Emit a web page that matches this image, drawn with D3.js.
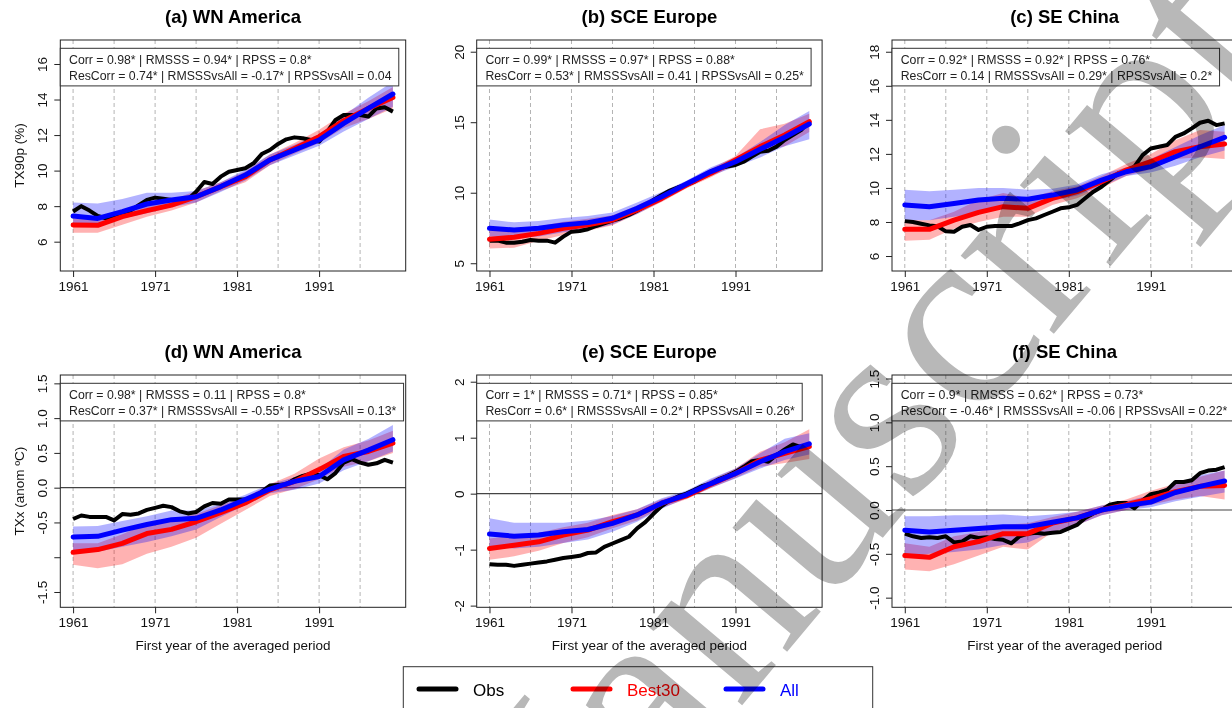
<!DOCTYPE html>
<html>
<head>
<meta charset="utf-8">
<script src="https://cdn.jsdelivr.net/npm/d3@7"></script>
<style>
body { margin: 0; background: #fff; }
text { font-family: "Liberation Sans", Arial, Helvetica, sans-serif; }
</style>
</head>
<body>
<svg width="1232" height="708"></svg>
<script>
// x categories
var obsYears = d3.range(1961, 2001);
var modelYears = [1961, 1964, 1967, 1970, 1973, 1976, 1979, 1982, 1985, 1988, 1991, 1994, 1997, 2000];
var gridYears = [1961, 1966, 1971, 1976, 1981, 1986, 1991, 1996];
var xTickYears = [1961, 1971, 1981, 1991];

// (a) WN America, TX90p
var aObs = [7.7, 8.0, 7.75, 7.45, 7.32, 7.37, 7.54, 7.75, 8.06, 8.35, 8.48, 8.42, 8.35, 8.3, 8.38, 8.81, 9.36, 9.25, 9.66, 9.94,
            10.03, 10.13, 10.41, 10.93, 11.16, 11.5, 11.76, 11.87, 11.82, 11.72, 11.63, 12.19, 12.85, 13.13, 13.13, 13.13, 13.04, 13.5, 13.56, 13.32];
var aBest = [6.94, 6.92, 7.41, 7.75, 8.06, 8.53, 9.1, 9.66, 10.6, 11.25, 11.91, 12.81, 13.5, 14.12];
var aBestLo = [6.5, 6.5, 6.95, 7.4, 7.75, 8.2, 8.85, 9.35, 10.3, 10.95, 11.55, 12.4, 12.9, 13.5];
var aBestHi = [7.3, 7.3, 7.8, 8.1, 8.35, 8.85, 9.35, 9.95, 10.9, 11.55, 12.3, 13.2, 13.9, 14.7];
var aAll = [7.44, 7.31, 7.69, 8.12, 8.35, 8.53, 9.1, 9.75, 10.6, 11.16, 11.72, 12.66, 13.5, 14.31];
var aAllLo = [7.05, 6.95, 7.3, 7.6, 7.95, 8.2, 8.8, 9.45, 10.3, 10.85, 11.4, 12.2, 12.9, 13.6];
var aAllHi = [8.2, 8.15, 8.4, 8.75, 8.75, 8.85, 9.35, 10.05, 10.9, 11.45, 12.05, 13.1, 14.1, 15.0];

// (b) SCE Europe, TX90p
var bObs = [6.6, 6.6, 6.46, 6.46, 6.53, 6.65, 6.6, 6.6, 6.46, 6.89, 7.24, 7.29, 7.41, 7.64, 7.83, 8.02, 8.19, 8.42, 8.73, 9.06,
            9.49, 9.84, 10.15, 10.39, 10.55, 10.79, 11.14, 11.5, 11.73, 11.85, 11.97, 12.2, 12.56, 12.91, 12.98, 13.27, 13.74, 14.09, 14.45, 15.04];
var bBest = [6.7, 6.84, 7.12, 7.48, 7.72, 8.07, 8.78, 9.6, 10.55, 11.38, 12.32, 13.27, 14.09, 15.04];
var bBestLo = [6.05, 6.1, 6.6, 7.0, 7.3, 7.7, 8.5, 9.35, 10.3, 11.1, 12.0, 12.9, 13.3, 14.3];
var bBestHi = [7.35, 7.5, 7.6, 7.95, 8.15, 8.4, 9.1, 9.95, 10.8, 11.7, 12.6, 14.5, 14.9, 15.6];
var bAll = [7.48, 7.36, 7.48, 7.72, 7.88, 8.19, 8.9, 9.72, 10.62, 11.5, 12.2, 13.08, 13.93, 14.87];
var bAllLo = [6.9, 6.8, 6.9, 7.2, 7.35, 7.75, 8.5, 9.4, 10.35, 11.2, 11.85, 12.5, 13.3, 13.8];
var bAllHi = [8.1, 7.9, 8.0, 8.2, 8.35, 8.6, 9.3, 10.05, 10.85, 11.8, 12.5, 13.6, 14.8, 15.8];

// (c) SE China, TX90p
var cObs = [8.05, 8.0, 7.9, 7.8, 7.75, 7.45, 7.43, 7.72, 7.82, 7.53, 7.72, 7.76, 7.76, 7.76, 7.92, 8.11, 8.21, 8.41, 8.6, 8.8,
            8.86, 9.0, 9.39, 9.78, 10.07, 10.46, 10.85, 10.95, 11.25, 11.93, 12.32, 12.42, 12.52, 13.0, 13.2, 13.5, 13.83, 13.95, 13.69, 13.79];
var cBest = [7.57, 7.57, 8.11, 8.56, 8.9, 8.8, 9.39, 9.78, 10.36, 11.05, 11.54, 12.13, 12.42, 12.58];
var cBestLo = [6.9, 6.95, 7.6, 8.0, 8.3, 8.3, 9.0, 9.4, 10.0, 10.7, 11.1, 11.7, 11.8, 11.7];
var cBestHi = [8.1, 8.1, 8.6, 9.3, 9.7, 9.4, 9.8, 10.1, 10.7, 11.4, 12.0, 12.8, 13.4, 13.3];
var cAll = [9.0, 8.9, 9.09, 9.29, 9.39, 9.33, 9.58, 9.88, 10.46, 10.95, 11.25, 11.83, 12.42, 12.97];
var cAllLo = [8.1, 8.1, 8.3, 8.5, 8.8, 8.9, 9.25, 9.55, 10.1, 10.7, 10.9, 11.3, 11.8, 12.2];
var cAllHi = [9.9, 9.8, 9.9, 10.0, 10.0, 9.9, 9.95, 10.2, 10.8, 11.2, 11.7, 12.4, 13.1, 13.7];

// (d) WN America, TXx
var dObs = [-0.45, -0.4, -0.42, -0.42, -0.42, -0.47, -0.38, -0.39, -0.37, -0.32, -0.29, -0.26, -0.28, -0.34, -0.37, -0.35, -0.27, -0.22, -0.23, -0.17,
            -0.17, -0.17, -0.15, -0.06, 0.03, 0.04, 0.05, 0.12, 0.17, 0.2, 0.18, 0.12, 0.21, 0.36, 0.41, 0.36, 0.33, 0.35, 0.4, 0.36];
var dBest = [-0.93, -0.89, -0.8, -0.66, -0.6, -0.49, -0.36, -0.22, -0.03, 0.09, 0.26, 0.45, 0.52, 0.64];
var dBestLo = [-1.11, -1.16, -1.1, -0.95, -0.85, -0.72, -0.52, -0.32, -0.12, -0.02, 0.12, 0.3, 0.38, 0.5];
var dBestHi = [-0.8, -0.8, -0.67, -0.52, -0.45, -0.38, -0.25, -0.14, 0.05, 0.2, 0.42, 0.58, 0.68, 0.82];
var dAll = [-0.71, -0.7, -0.61, -0.53, -0.46, -0.44, -0.32, -0.17, -0.02, 0.09, 0.16, 0.4, 0.54, 0.69];
var dAllLo = [-0.9, -0.92, -0.85, -0.78, -0.7, -0.6, -0.42, -0.25, -0.08, -0.03, 0.06, 0.25, 0.38, 0.52];
var dAllHi = [-0.56, -0.55, -0.48, -0.41, -0.33, -0.33, -0.23, -0.1, 0.05, 0.15, 0.26, 0.55, 0.7, 0.9];

// (e) SCE Europe, TXx
var eObs = [-1.26, -1.27, -1.27, -1.29, -1.27, -1.25, -1.23, -1.21, -1.18, -1.15, -1.13, -1.11, -1.06, -1.05, -0.95, -0.89, -0.83, -0.77, -0.62, -0.51,
            -0.36, -0.22, -0.12, -0.05, 0.0, 0.07, 0.14, 0.18, 0.26, 0.32, 0.39, 0.48, 0.58, 0.6, 0.57, 0.69, 0.79, 0.88, 0.83, 0.87];
var eBest = [-0.98, -0.92, -0.86, -0.74, -0.65, -0.5, -0.38, -0.17, -0.04, 0.17, 0.36, 0.6, 0.72, 0.84];
var eBestLo = [-1.18, -1.12, -1.02, -0.88, -0.78, -0.62, -0.48, -0.25, -0.1, 0.1, 0.28, 0.48, 0.55, 0.62];
var eBestHi = [-0.8, -0.75, -0.7, -0.6, -0.52, -0.38, -0.28, -0.1, 0.03, 0.25, 0.45, 0.75, 0.92, 1.15];
var eAll = [-0.72, -0.76, -0.74, -0.68, -0.64, -0.53, -0.38, -0.17, -0.02, 0.18, 0.36, 0.57, 0.75, 0.89];
var eAllLo = [-0.95, -0.98, -0.95, -0.88, -0.82, -0.68, -0.5, -0.27, -0.08, 0.1, 0.27, 0.45, 0.6, 0.7];
var eAllHi = [-0.44, -0.52, -0.52, -0.52, -0.48, -0.4, -0.28, -0.08, 0.05, 0.27, 0.45, 0.72, 0.98, 1.08];

// (f) SE China, TXx
var fObs = [-0.27, -0.3, -0.32, -0.31, -0.32, -0.3, -0.37, -0.36, -0.3, -0.32, -0.31, -0.33, -0.34, -0.38, -0.3, -0.27, -0.26, -0.27, -0.26, -0.25,
            -0.21, -0.17, -0.09, -0.04, 0.0, 0.06, 0.08, 0.08, 0.02, 0.11, 0.18, 0.2, 0.23, 0.32, 0.32, 0.34, 0.42, 0.45, 0.46, 0.49];
var fBest = [-0.52, -0.54, -0.42, -0.36, -0.27, -0.27, -0.15, -0.09, 0.0, 0.06, 0.13, 0.21, 0.27, 0.28];
var fBestLo = [-0.68, -0.7, -0.62, -0.52, -0.42, -0.45, -0.25, -0.17, -0.06, 0.0, 0.06, 0.12, 0.16, 0.12];
var fBestHi = [-0.38, -0.42, -0.3, -0.25, -0.17, -0.15, -0.08, -0.02, 0.05, 0.12, 0.22, 0.3, 0.38, 0.45];
var fAll = [-0.23, -0.25, -0.23, -0.21, -0.19, -0.19, -0.14, -0.09, 0.0, 0.05, 0.09, 0.2, 0.27, 0.33];
var fAllLo = [-0.55, -0.5, -0.48, -0.45, -0.4, -0.37, -0.25, -0.17, -0.06, 0.0, 0.03, 0.1, 0.15, 0.2];
var fAllHi = [-0.07, -0.07, -0.06, -0.06, -0.05, -0.07, -0.05, -0.02, 0.05, 0.1, 0.17, 0.3, 0.4, 0.45];

var panels = [
  {title: "(a) WN America", col: 0, row: 0, yDomain: [4.35, 17.35], yTicks: [6, 8, 10, 12, 14, 16],
   yLabels: ["6", "8", "10", "12", "14", "16"],
   stats: ["Corr = 0.98* | RMSSS = 0.94* | RPSS = 0.8*", "ResCorr = 0.74* | RMSSSvsAll = -0.17* | RPSSvsAll = 0.04"],
   obs: aObs, best: aBest, bestLo: aBestLo, bestHi: aBestHi, all: aAll, allLo: aAllLo, allHi: aAllHi},
  {title: "(b) SCE Europe", col: 1, row: 0, yDomain: [4.45, 20.83], yTicks: [5, 10, 15, 20],
   yLabels: ["5", "10", "15", "20"],
   stats: ["Corr = 0.99* | RMSSS = 0.97* | RPSS = 0.88*", "ResCorr = 0.53* | RMSSSvsAll = 0.41 | RPSSvsAll = 0.25*"],
   obs: bObs, best: bBest, bestLo: bBestLo, bestHi: bBestHi, all: bAll, allLo: bAllLo, allHi: bAllHi},
  {title: "(c) SE China", col: 2, row: 0, yDomain: [5.12, 18.69], yTicks: [6, 8, 10, 12, 14, 16, 18],
   yLabels: ["6", "8", "10", "12", "14", "16", "18"],
   stats: ["Corr = 0.92* | RMSSS = 0.92* | RPSS = 0.76*", "ResCorr = 0.14 | RMSSSvsAll = 0.29* | RPSSvsAll = 0.2*"],
   obs: cObs, best: cBest, bestLo: cBestLo, bestHi: cBestHi, all: cAll, allLo: cAllLo, allHi: cAllHi},
  {title: "(d) WN America", col: 0, row: 1, yDomain: [-1.72, 1.62], yTicks: [-1.5, -1, -0.5, 0, 0.5, 1, 1.5],
   yLabels: ["-1.5", "", "-0.5", "0.0", "0.5", "1.0", "1.5"],
   stats: ["Corr = 0.98* | RMSSS = 0.11 | RPSS = 0.8*", "ResCorr = 0.37* | RMSSSvsAll = -0.55* | RPSSvsAll = 0.13*"],
   obs: dObs, best: dBest, bestLo: dBestLo, bestHi: dBestHi, all: dAll, allLo: dAllLo, allHi: dAllHi},
  {title: "(e) SCE Europe", col: 1, row: 1, yDomain: [-2.03, 2.12], yTicks: [-2, -1, 0, 1, 2],
   yLabels: ["-2", "-1", "0", "1", "2"],
   stats: ["Corr = 1* | RMSSS = 0.71* | RPSS = 0.85*", "ResCorr = 0.6* | RMSSSvsAll = 0.2* | RPSSvsAll = 0.26*"],
   obs: eObs, best: eBest, bestLo: eBestLo, bestHi: eBestHi, all: eAll, allLo: eAllLo, allHi: eAllHi},
  {title: "(f) SE China", col: 2, row: 1, yDomain: [-1.11, 1.54], yTicks: [-1, -0.5, 0, 0.5, 1, 1.5],
   yLabels: ["-1.0", "-0.5", "0.0", "0.5", "1.0", "1.5"],
   stats: ["Corr = 0.9* | RMSSS = 0.62* | RPSS = 0.73*", "ResCorr = -0.46* | RMSSSvsAll = -0.06 | RPSSvsAll = 0.22*"],
   obs: fObs, best: fBest, bestLo: fBestLo, bestHi: fBestHi, all: fAll, allLo: fAllLo, allHi: fAllHi}
];

var yTitles = ["TX90p (%)", "TXx (anom \u00baC)"];
var legendItems = [{name: "Obs", color: "#000"}, {name: "Best30", color: "#ff0000"}, {name: "All", color: "#0000ff"}];

var svg = d3.select("svg");
var colLeft = [60.3, 476.7, 892],
    rowTop = [40, 375],
    rowHeight = [231, 232.3],
    plotW = 345.4;

panels.forEach(drawPanel);

function drawPanel(p) {
  var left = colLeft[p.col], top = rowTop[p.row], h = rowHeight[p.row];
  var x = d3.scaleLinear().domain([1959.44, 2001.56]).range([left, left + plotW]);
  var y = d3.scaleLinear().domain(p.yDomain).range([top + h, top]);
  var g = svg.append("g");

  g.append("text")
    .attr("x", left + plotW / 2).attr("y", top - 17)
    .attr("text-anchor", "middle")
    .style("font-size", "18.5px").style("font-weight", "bold")
    .text(p.title);

  g.selectAll(".grid").data(gridYears).enter().append("line")
    .attr("x1", d => x(d)).attr("x2", d => x(d))
    .attr("y1", top).attr("y2", top + h)
    .attr("stroke", "#b4b4b4").attr("stroke-dasharray", "4,3").attr("stroke-width", 1);

  if (p.row == 1) {
    g.append("line")
      .attr("x1", left).attr("x2", left + plotW)
      .attr("y1", y(0)).attr("y2", y(0))
      .attr("stroke", "#444").attr("stroke-width", 1.2);
  }

  var band = function(lo, hi) {
    return d3.area()
      .x((d, i) => x(modelYears[i]))
      .y0((d, i) => y(lo[i]))
      .y1((d, i) => y(hi[i]))(lo);
  };
  var line = function(vals, yrs) {
    return d3.line().x((d, i) => x(yrs[i])).y(d => y(d))(vals);
  };

  g.append("path").attr("d", band(p.bestLo, p.bestHi)).attr("fill", "#ff0000").attr("fill-opacity", 0.3);
  g.append("path").attr("d", band(p.allLo, p.allHi)).attr("fill", "#0000ff").attr("fill-opacity", 0.3);

  g.append("path").attr("d", line(p.obs, obsYears))
    .attr("fill", "none").attr("stroke", "#000").attr("stroke-width", 4).attr("stroke-linejoin", "round");
  g.append("path").attr("d", line(p.best, modelYears))
    .attr("fill", "none").attr("stroke", "#ff0000").attr("stroke-width", 5).attr("stroke-linejoin", "round").attr("stroke-linecap", "round");
  g.append("path").attr("d", line(p.all, modelYears))
    .attr("fill", "none").attr("stroke", "#0000ff").attr("stroke-width", 5).attr("stroke-linejoin", "round").attr("stroke-linecap", "round");

  // box
  g.append("rect")
    .attr("x", left).attr("y", top).attr("width", plotW).attr("height", h)
    .attr("fill", "none").attr("stroke", "#222").attr("stroke-width", 1);

  // x axis
  var xAxis = d3.axisBottom(x).tickValues(xTickYears).tickFormat(d3.format("d")).tickSizeOuter(0).tickSize(6).tickPadding(4);
  var gx = g.append("g").attr("transform", "translate(0," + (top + h) + ")").call(xAxis);
  gx.select(".domain").remove();
  gx.selectAll("text").style("font-size", "13.5px").attr("fill", "#111").style("font-family", "Liberation Sans, Arial, sans-serif");
  gx.selectAll("line").attr("stroke", "#222");

  // y axis, labels parallel to axis
  var yAxis = d3.axisLeft(y).tickValues(p.yTicks).tickFormat((d, i) => p.yLabels[i]).tickSize(6).tickSizeOuter(0);
  var gy = g.append("g").attr("transform", "translate(" + left + ",0)").call(yAxis);
  gy.select(".domain").remove();
  gy.selectAll("line").attr("stroke", "#222");
  gy.selectAll("text")
    .attr("x", 0).attr("dy", null).attr("y", 0)
    .attr("text-anchor", "middle")
    .attr("transform", "translate(-13,0) rotate(-90)")
    .style("font-size", "13.5px").attr("fill", "#111").style("font-family", "Liberation Sans, Arial, sans-serif");

  // stats box
  var boxTop = top + 8.3;
  var sg = g.append("g");
  var rect = sg.append("rect").attr("x", left).attr("y", boxTop).attr("height", 37.6)
    .attr("fill", "#fff").attr("stroke", "#333").attr("stroke-width", 1);
  var maxW = 0;
  p.stats.forEach(function(s, i) {
    var t = sg.append("text")
      .attr("x", left + 8.7).attr("y", boxTop + 16 + i * 15.2)
      .style("font-size", "12.3px").attr("fill", "#222")
      .text(s);
    maxW = Math.max(maxW, t.node().getComputedTextLength());
  });
  rect.attr("width", maxW + 16);

  if (p.row == 1) {
    g.append("text")
      .attr("x", left + plotW / 2).attr("y", 650)
      .attr("text-anchor", "middle").style("font-size", "13.5px").attr("fill", "#111")
      .text("First year of the averaged period");
  }
  if (p.col == 0) {
    g.append("text")
      .attr("transform", "translate(24," + (top + h / 2) + ") rotate(-90)")
      .attr("text-anchor", "middle").style("font-size", "13.5px").attr("fill", "#111")
      .text(yTitles[p.row]);
  }
}

// bottom legend
var lg = svg.append("g");
lg.append("rect").attr("x", 403.3).attr("y", 666.7).attr("width", 469.4).attr("height", 80)
  .attr("fill", "#fff").attr("stroke", "#333").attr("stroke-width", 1);
var legendX = [419, 573, 726];
legendItems.forEach(function(d, i) {
  lg.append("line").attr("x1", legendX[i]).attr("x2", legendX[i] + 37).attr("y1", 689).attr("y2", 689)
    .attr("stroke", d.color).attr("stroke-width", 5).attr("stroke-linecap", "round");
  lg.append("text").attr("x", legendX[i] + 54).attr("y", 695.5)
    .style("font-size", "17px").attr("fill", d.color).text(d.name);
});

// watermark
svg.append("text")
  .attr("transform", "translate(1287,56) rotate(-50)")
  .attr("text-anchor", "end")
  .style("font-family", "Liberation Serif, Times New Roman, serif")
  .style("font-size", "265px")
  .style("mix-blend-mode", "multiply")
  .attr("fill", "#b8b8b8")
  .text("Accepted Manuscript");
</script>
</body>
</html>
